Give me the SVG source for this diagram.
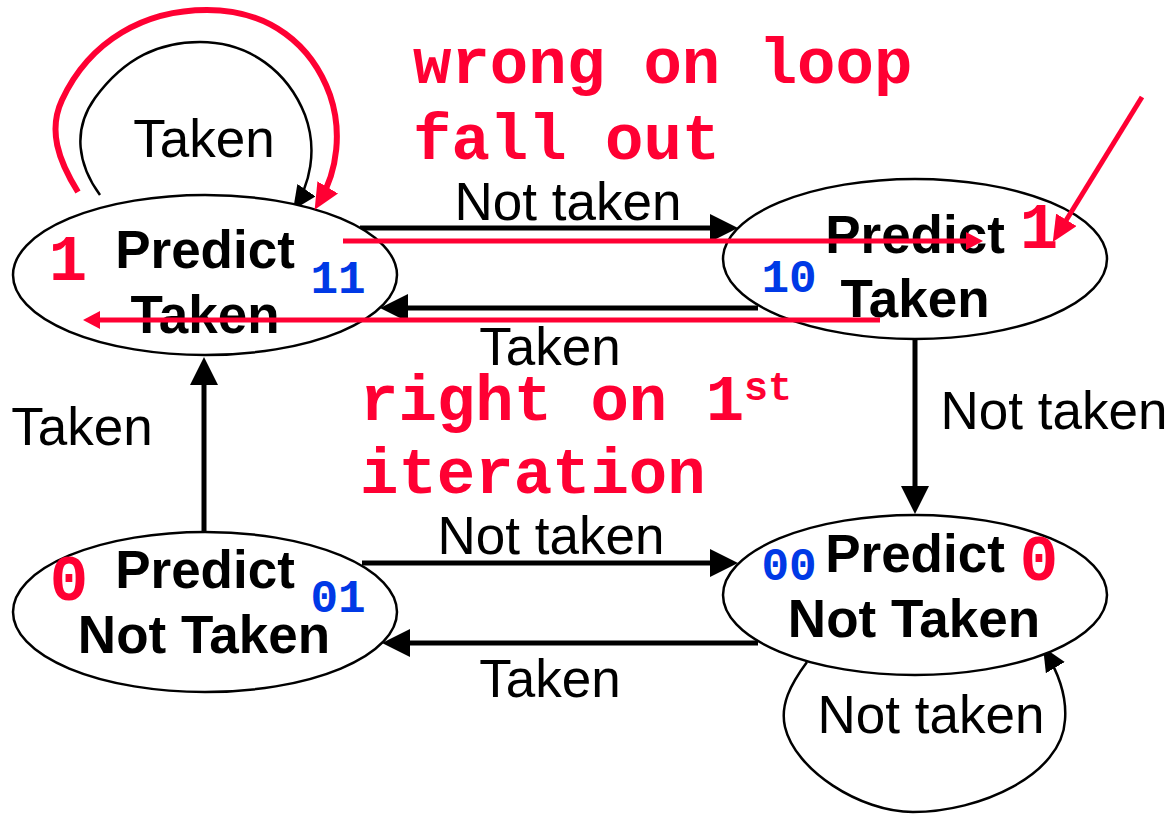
<svg xmlns="http://www.w3.org/2000/svg" width="1167" height="814" viewBox="0 0 1167 814">
<style>
.node{fill:#fff;stroke:#000;stroke-width:2.5}
.nt{font-family:"Liberation Sans",Arial,sans-serif;font-weight:bold;font-size:53px;fill:#000;text-anchor:middle}
.lbl{font-family:"Liberation Sans",Arial,sans-serif;font-size:53px;fill:#000;text-anchor:middle}
.bit{font-family:"Liberation Mono","Courier New",monospace;font-weight:bold;font-size:64px;fill:#ff0033;text-anchor:middle}
.st{font-family:"Liberation Mono","Courier New",monospace;font-weight:bold;font-size:46px;fill:#0039e6;text-anchor:middle}
.red{font-family:"Liberation Mono","Courier New",monospace;font-weight:bold;font-size:64px;fill:#ff0033}
.edge{fill:none;stroke:#000;stroke-width:5}
.loop{fill:none;stroke:#000;stroke-width:2.5}
.redl{fill:none;stroke:#ff0033;stroke-width:5}
.redloop{fill:none;stroke:#ff0033;stroke-width:6}
</style>
<defs>
<marker id="ah" markerUnits="userSpaceOnUse" markerWidth="28" markerHeight="28" viewBox="0 0 28 28" refX="18" refY="14" orient="auto"><path d="M0,0 L28,14 L0,28 z" fill="#000"/></marker>
<marker id="ahs" markerUnits="userSpaceOnUse" markerWidth="24" markerHeight="22" viewBox="0 0 24 22" refX="24" refY="11" orient="auto"><path d="M0,0 L24,11 L0,22 z" fill="#000"/></marker>
<marker id="rh" markerUnits="userSpaceOnUse" markerWidth="17" markerHeight="18" viewBox="0 0 17 18" refX="9" refY="9" orient="auto"><path d="M0,0 L17,9 L0,18 z" fill="#ff0033"/></marker>
<marker id="rhb" markerUnits="userSpaceOnUse" markerWidth="26" markerHeight="24" viewBox="0 0 26 24" refX="16" refY="12" orient="auto"><path d="M0,0 L26,12 L0,24 z" fill="#ff0033"/></marker>
</defs>

<g id="connectors">
<path class="loop" d="M100,195 C78,165 72,130 95,98 C125,57 160,42 200,42 C250,42 288,72 305,115 C318,150 310,185 293,210" marker-end="url(#ahs)"/>
<line class="edge" x1="360" y1="228" x2="728" y2="228" marker-end="url(#ah)"/>
<line class="edge" x1="758" y1="308" x2="390" y2="308" marker-end="url(#ah)"/>
<line class="edge" x1="204" y1="532" x2="204" y2="367" marker-end="url(#ah)"/>
<line class="edge" x1="915" y1="339" x2="915" y2="504" marker-end="url(#ah)"/>
<line class="edge" x1="362" y1="563" x2="728" y2="563" marker-end="url(#ah)"/>
<line class="edge" x1="758" y1="643" x2="392" y2="643" marker-end="url(#ah)"/>
<path class="loop" d="M807,662 C790,685 780,705 785,727 C795,770 860,812 913,812 C980,812 1062,775 1065,720 C1067,695 1058,672 1043,647" marker-end="url(#ahs)"/>
<text class="lbl" x="204" y="157">Taken</text>
<text class="lbl" x="568" y="220">Not taken</text>
<text class="lbl" x="550" y="365">Taken</text>
<text class="lbl" x="82" y="445">Taken</text>
<text class="lbl" x="1054" y="429">Not taken</text>
<text class="lbl" x="551" y="554">Not taken</text>
<text class="lbl" x="550" y="697">Taken</text>
<text class="lbl" x="931" y="733">Not taken</text>
</g>

<g id="n11">
<ellipse class="node" cx="205" cy="275" rx="192" ry="80"/>
<text class="nt" x="205" y="268">Predict</text>
<text class="nt" x="205" y="333">Taken</text>
<text class="bit" x="68" y="280">1</text>
<text class="st" x="338" y="293">11</text>
</g>
<g id="n10">
<ellipse class="node" cx="915" cy="259" rx="192" ry="80"/>
<text class="nt" x="915" y="253">Predict</text>
<text class="nt" x="915" y="317">Taken</text>
<text class="bit" x="1039" y="248">1</text>
<text class="st" x="789" y="292">10</text>
</g>
<g id="n01">
<ellipse class="node" cx="205" cy="612" rx="192" ry="80"/>
<text class="nt" x="205" y="588">Predict</text>
<text class="nt" x="204" y="653">Not Taken</text>
<text class="bit" x="69" y="600">0</text>
<text class="st" x="338" y="612">01</text>
</g>
<g id="n00">
<ellipse class="node" cx="915" cy="595" rx="192" ry="80"/>
<text class="nt" x="915" y="572">Predict</text>
<text class="nt" x="914" y="637">Not Taken</text>
<text class="bit" x="1039" y="580">0</text>
<text class="st" x="789" y="580">00</text>
</g>

<g id="annotations">
<path class="redloop" d="M78,192 C58,160 48,130 62,100 C90,40 145,10 207,10 C270,10 312,45 330,95 C342,130 338,170 319.7,201.2" marker-end="url(#rhb)"/>
<line class="redl" x1="343" y1="241" x2="975" y2="241" marker-end="url(#rh)"/>
<line class="redl" x1="880" y1="320" x2="91" y2="320" marker-end="url(#rh)"/>
<line class="redl" x1="1142" y1="97" x2="1058" y2="233.5" marker-end="url(#rhb)"/>
<text class="red" x="413" y="83">wrong on loop</text>
<text class="red" x="413" y="159">fall out</text>
<text class="red" x="360" y="420">right on 1<tspan font-size="40" dy="-20">st</tspan></text>
<text class="red" x="360" y="493">iteration</text>
</g>
</svg>
